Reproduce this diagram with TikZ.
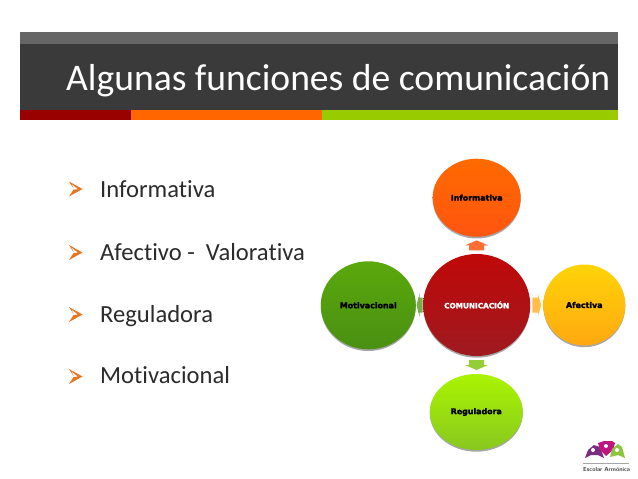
\documentclass[tikz,border=0pt]{standalone}
\usepackage{fontspec}
\setmainfont[Ligatures=NoCommon]{Carlito}
\newfontfamily\fatfont[FakeBold=2.4]{DejaVu Sans Bold}
\usetikzlibrary{shapes.geometric,calc}
\definecolor{ink}{HTML}{2B2B2B}
\definecolor{head}{HTML}{3A3A3A}
\definecolor{headtop}{HTML}{666666}
\definecolor{bulletc}{HTML}{E8741E}
\definecolor{barred}{HTML}{990000}
\definecolor{barorange}{HTML}{FF6600}
\definecolor{bargreen}{HTML}{99CC00}
\tikzset{
  x=1pt,y=-1pt,
  disc/.style={ellipse,inner sep=0pt,outer sep=0pt,font=\fatfont\fontsize{7.9}{9}\selectfont,text=black},
  itemtext/.style={anchor=base west,inner sep=0pt,text=ink,font=\fontsize{24.6}{26}\selectfont},
  bullet/.style={fill=bulletc,draw=none},
  shade/.style={fill=black!35}
}
\newcommand{\bulletmark}[2]{%
  \fill[bullet] (#1-2,#2-7.5) -- (#1+11.5,#2) -- (#1-2,#2+7.5) -- (#1+2.5,#2+.6) -- (#1+7,#2+.2) -- (#1+.5,#2-5.2) -- (#1+2.5,#2-.6) -- cycle;}
% #1 named centre, #2 rotation, #3 half length, #4 half-length of the head, #5 colour
\newcommand{\blockarrow}[5]{%
  \fill[shift={(#1)},rotate=#2,fill=#5] (#3,0) -- (#3-#4,11.5) -- (#3-#4,7.5) -- (-#3,7.5) -- (-#3,-7.5) -- (#3-#4,-7.5) -- (#3-#4,-11.5) -- cycle;}
\begin{document}
\begin{tikzpicture}
\useasboundingbox (0,0) rectangle (638,479);
\fill[white] (0,0) rectangle (638,479);
% header
\fill[headtop] (20,32) rectangle (618,44);
\fill[head] (20,44) rectangle (618,110);
\fill[barred] (20,110) rectangle (131,120);
\fill[barorange] (131,110) rectangle (322,120);
\fill[bargreen] (322,110) rectangle (618,120);
\node[anchor=base west,inner sep=0pt,text=white,font=\fontsize{37.6}{40}\selectfont] (title) at (66,90) {Algunas funciones de comunicación};
% list
\bulletmark{71}{189}
\node[itemtext] (t1) at (100,197) {Informativa};
\bulletmark{71}{252.5}
\node[itemtext] (t2) at (100,260) {Afectivo -\ \ Valorativa};
\bulletmark{71}{314.5}
\node[itemtext] (t3) at (100,322) {Reguladora};
\bulletmark{71}{376.5}
\node[itemtext] (t4) at (100,383.5) {Motivacional};
% shadows
\fill[shade] (476.7,199) ellipse [x radius=44,y radius=39.5];
\fill[shade] (476.7,306.2) ellipse [x radius=53.5,y radius=51.5];
\fill[shade] (368.3,306.5) ellipse [x radius=47.5,y radius=44.5];
\fill[shade] (584.3,306.2) ellipse [x radius=41,y radius=41];
\fill[shade] (476.3,413.2) ellipse [x radius=46.5,y radius=38.5];
% discs
\definecolor{i1}{HTML}{FF6A00}\definecolor{i2}{HTML}{FF5510}
\definecolor{c1}{HTML}{C00808}\definecolor{c2}{HTML}{9E1A20}
\definecolor{m1}{HTML}{5AA80C}\definecolor{m2}{HTML}{4A9012}
\definecolor{a1}{HTML}{FFD408}\definecolor{a2}{HTML}{FFA810}
\definecolor{r1}{HTML}{AAF400}\definecolor{r2}{HTML}{88C820}
\node[disc,minimum width=88pt,minimum height=78pt,top color=i1,bottom color=i2] (inf) at (476.7,197.7) {Informativa};
\node[disc,minimum width=107pt,minimum height=102pt,top color=c1,bottom color=c2,text=white,font=\fatfont\fontsize{7.3}{9}\selectfont] (com) at (476.7,305) {COMUNICACIÓN};
\node[disc,minimum width=95pt,minimum height=88pt,top color=m1,bottom color=m2] (mot) at (368.3,305.3) {Motivacional};
\node[disc,minimum width=82pt,minimum height=81pt,top color=a1,bottom color=a2] (afe) at (584.3,305) {Afectiva};
\node[disc,minimum width=93pt,minimum height=76pt,top color=r1,bottom color=r2] (reg) at (476.3,412) {Reguladora};
% arrows
\coordinate (up) at ($(inf.south)!0.5!(com.north)$);
\coordinate (down) at ($(com.south)!0.5!(reg.north)$);
\coordinate (left) at ($(mot.east)!0.5!(com.west)$);
\coordinate (right) at ($(com.east)!0.5!(afe.west)$);
\blockarrow{up}{90}{5}{5}{i2!85!white}
\blockarrow{down}{-90}{5}{5}{r2!90!white}
\blockarrow{left}{180}{3}{3}{m2!75!white}
\blockarrow{right}{0}{4.5}{3.5}{a2!75!white}
% logo
\definecolor{lp}{HTML}{7B2D80}\definecolor{lm}{HTML}{C0157F}\definecolor{lg}{HTML}{8CC63F}
\fill[lp] (585,458) -- (588,450) -- (594,445) -- (600,447) -- (604,458) -- (598,455) -- (591,455) -- cycle;
\fill[lm] (598,443) -- (604,441) -- (612,441) -- (615,443) -- (613,450) -- (606,456) -- (600,450) -- cycle;
\fill[lg] (610,457) -- (612,449) -- (618,444) -- (622,447) -- (625,458) -- (618,455) -- cycle;
\fill[white] (593,450) circle (2) (606,446) circle (2) (617,450) circle (2);
\draw[black!35,line width=1pt] (583,463) -- (629,463);
\node[anchor=base west,inner sep=0pt,text=black!75,font=\sffamily\bfseries\fontsize{5.9}{7}\selectfont] (logotext) at (583,471) {Escolar Armónica};
\end{tikzpicture}
\end{document}
